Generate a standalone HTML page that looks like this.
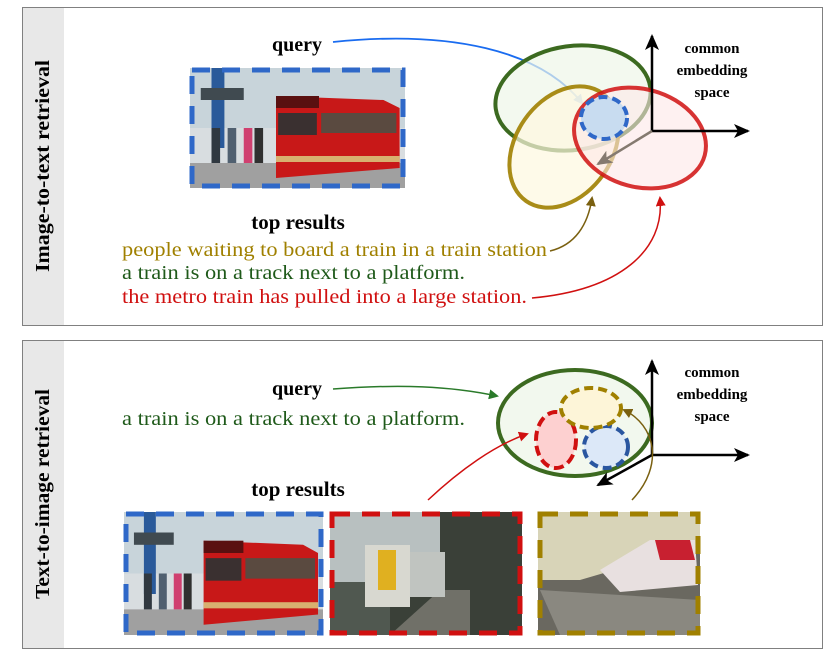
<!DOCTYPE html>
<html><head><meta charset="utf-8"><style>
html,body{margin:0;padding:0;background:#fff;width:834px;height:656px;overflow:hidden}
svg text{font-family:"Liberation Serif",serif}
</style></head><body>
<svg width="834" height="656" viewBox="0 0 834 656" xmlns="http://www.w3.org/2000/svg">
<defs>
<marker id="ab" markerWidth="10" markerHeight="10" refX="8" refY="5" orient="auto" markerUnits="userSpaceOnUse"><path d="M0,0 L10,5 L0,10 z" fill="#1a6cf0"/></marker>
<marker id="ag" markerWidth="10" markerHeight="10" refX="8" refY="5" orient="auto" markerUnits="userSpaceOnUse"><path d="M0,0 L10,5 L0,10 z" fill="#2a7a2a"/></marker>
<marker id="ao" markerWidth="10" markerHeight="10" refX="8" refY="5" orient="auto" markerUnits="userSpaceOnUse"><path d="M0,0 L10,5 L0,10 z" fill="#7a6010"/></marker>
<marker id="ar" markerWidth="10" markerHeight="10" refX="8" refY="5" orient="auto" markerUnits="userSpaceOnUse"><path d="M0,0 L10,5 L0,10 z" fill="#d01010"/></marker>
<marker id="ak" markerWidth="16" markerHeight="14" refX="14" refY="7" orient="auto" markerUnits="userSpaceOnUse"><path d="M0,0 L16,7 L0,14 L4,7 z" fill="#000"/></marker>
<marker id="akg" markerWidth="16" markerHeight="14" refX="14" refY="7" orient="auto" markerUnits="userSpaceOnUse"><path d="M0,0 L16,7 L0,14 L4,7 z" fill="#857a70"/></marker>
<symbol id="tram" viewBox="0 0 200 120" preserveAspectRatio="none">
<rect width="200" height="120" fill="#d8dde0"/>
<rect x="0" y="0" width="200" height="60" fill="#c8d4da"/>
<rect x="20" y="0" width="12" height="80" fill="#2a5a9a"/>
<rect x="10" y="20" width="40" height="12" fill="#404a50"/>
<rect x="0" y="95" width="200" height="25" fill="#a0a0a0"/>
<path d="M80,28 L180,32 L195,40 L195,100 L80,110 z" fill="#c81818"/>
<rect x="80" y="28" width="40" height="12" fill="#5a1010"/>
<rect x="82" y="45" width="36" height="22" fill="#3a3030"/>
<rect x="122" y="45" width="70" height="20" fill="#5a4a40"/>
<rect x="80" y="88" width="115" height="6" fill="#d8b070"/>
<rect x="20" y="60" width="8" height="35" fill="#303840"/>
<rect x="35" y="60" width="8" height="35" fill="#506070"/>
<rect x="50" y="60" width="8" height="35" fill="#d04070"/>
<rect x="60" y="60" width="8" height="35" fill="#303030"/>
</symbol>
</defs>

<rect x="22.5" y="7.5" width="800" height="318" fill="#fff" stroke="#808080"/>
<rect x="23" y="8" width="41" height="317" fill="#e8e8e8"/>
<text transform="translate(49,166) rotate(-90)" font-size="20" font-weight="bold" text-anchor="middle" textLength="212" lengthAdjust="spacingAndGlyphs">Image-to-text retrieval</text>

<use href="#tram" x="190" y="68" width="215" height="120"/>
<rect x="192" y="70" width="211" height="116" fill="none" stroke="#2f68c8" stroke-width="5" stroke-dasharray="18,12"/>

<text x="297" y="51" font-size="20" font-weight="bold" text-anchor="middle">query</text>
<path d="M333,42 C450,30 540,50 582,103" fill="none" stroke="#1a6cf0" stroke-width="1.8" marker-end="url(#ab)"/>

<ellipse cx="573" cy="98" rx="78" ry="52" transform="rotate(-8 573 98)" fill="#eef6e8" fill-opacity="0.7" stroke="#3c6a20" stroke-width="4"/>
<ellipse cx="564" cy="147" rx="66" ry="48" transform="rotate(-55 564 147)" fill="#fdf8e0" fill-opacity="0.7" stroke="#a08000" stroke-width="4" stroke-opacity="0.9"/>
<ellipse cx="640" cy="138" rx="67" ry="49" transform="rotate(15 640 138)" fill="#fde8e8" fill-opacity="0.6" stroke="#d01010" stroke-width="4" stroke-opacity="0.85"/>
<ellipse cx="604" cy="118" rx="23" ry="21" fill="#c8dcf0" stroke="#2f68c8" stroke-width="4" stroke-dasharray="9,5"/>
<line x1="652" y1="131" x2="652" y2="36" stroke="#000" stroke-width="2.5" marker-end="url(#ak)"/>
<line x1="652" y1="131" x2="748" y2="131" stroke="#000" stroke-width="2.5" marker-end="url(#ak)"/>
<line x1="652" y1="131" x2="598" y2="164" stroke="#857a70" stroke-width="2.5" marker-end="url(#akg)"/>
<g font-size="15" font-weight="bold" text-anchor="middle">
<text x="712" y="53">common</text><text x="712" y="75">embedding</text><text x="712" y="97">space</text></g>

<text x="298" y="229" font-size="21" font-weight="bold" text-anchor="middle">top results</text>
<g font-size="20">
<text x="122" y="256" fill="#a08000" textLength="425" lengthAdjust="spacingAndGlyphs">people waiting to board a train in a train station</text>
<text x="122" y="279" fill="#1f5a1a" textLength="343" lengthAdjust="spacingAndGlyphs">a train is on a track next to a platform.</text>
<text x="122" y="303" fill="#d01010" textLength="405" lengthAdjust="spacingAndGlyphs">the metro train has pulled into a large station.</text></g>
<path d="M550,251 C575,245 588,225 592,198" fill="none" stroke="#7a6010" stroke-width="1.5" marker-end="url(#ao)"/>
<path d="M532,298 C620,290 665,250 660,198" fill="none" stroke="#d01010" stroke-width="1.5" marker-end="url(#ar)"/>

<rect x="22.5" y="340.5" width="800" height="308" fill="#fff" stroke="#808080"/>
<rect x="23" y="341" width="41" height="307" fill="#e8e8e8"/>
<text transform="translate(49,494) rotate(-90)" font-size="20" font-weight="bold" text-anchor="middle" textLength="210" lengthAdjust="spacingAndGlyphs">Text-to-image retrieval</text>

<text x="297" y="395" font-size="20" font-weight="bold" text-anchor="middle">query</text>
<path d="M333,389 C400,384 450,386 497,396" fill="none" stroke="#2a7a2a" stroke-width="1.5" marker-end="url(#ag)"/>
<text x="122" y="425" font-size="20" fill="#1f5a1a" textLength="343" lengthAdjust="spacingAndGlyphs">a train is on a track next to a platform.</text>

<ellipse cx="575" cy="423" rx="77" ry="53" fill="#f2f8ee" stroke="#3c6a20" stroke-width="4"/>
<ellipse cx="556" cy="440" rx="20" ry="28" fill="#fdd0d0" stroke="#d01010" stroke-width="4" stroke-dasharray="10,5"/>
<ellipse cx="606" cy="447" rx="22" ry="21" fill="#dce8f8" stroke="#2a56a0" stroke-width="4" stroke-dasharray="9,5"/>
<ellipse cx="591" cy="408" rx="30" ry="20" fill="#fdf5d8" stroke="#a08000" stroke-width="4" stroke-dasharray="9,5"/>
<line x1="652" y1="455" x2="652" y2="361" stroke="#000" stroke-width="2.5" marker-end="url(#ak)"/>
<line x1="652" y1="455" x2="748" y2="455" stroke="#000" stroke-width="2.5" marker-end="url(#ak)"/>
<line x1="652" y1="455" x2="598" y2="485" stroke="#000" stroke-width="2.5" marker-end="url(#ak)"/>
<g font-size="15" font-weight="bold" text-anchor="middle">
<text x="712" y="377">common</text><text x="712" y="399">embedding</text><text x="712" y="421">space</text></g>
<path d="M428,500 C460,470 495,445 527,434" fill="none" stroke="#d01010" stroke-width="1.5" marker-end="url(#ar)"/>
<path d="M632,500 C665,465 655,425 624,410" fill="none" stroke="#7a6010" stroke-width="1.5" marker-end="url(#ao)"/>

<text x="298" y="496" font-size="21" font-weight="bold" text-anchor="middle">top results</text>

<use href="#tram" x="124" y="512" width="199" height="123"/>
<rect x="126" y="514" width="195" height="119" fill="none" stroke="#2f68c8" stroke-width="5" stroke-dasharray="18,12"/>

<g>
<rect x="330" y="512" width="192" height="123" fill="#3a4038"/>
<rect x="330" y="512" width="110" height="70" fill="#b8c0c0"/>
<rect x="330" y="582" width="60" height="53" fill="#505850"/>
<path d="M390,635 L440,590 L470,590 L470,635 z" fill="#707068"/>
<rect x="365" y="545" width="45" height="62" fill="#d8d8d0"/>
<rect x="378" y="550" width="18" height="40" fill="#e0b020"/>
<rect x="410" y="552" width="35" height="45" fill="#c0c4c0"/>
<rect x="332" y="514" width="188" height="119" fill="none" stroke="#d01010" stroke-width="5" stroke-dasharray="18,12"/>
</g>

<g>
<rect x="538" y="512" width="162" height="123" fill="#6a6860"/>
<path d="M538,512 L700,512 L700,545 L580,580 L538,580 z" fill="#d8d4b8"/>
<path d="M600,570 L650,540 L695,540 L698,585 L620,592 z" fill="#e8e0e0"/>
<path d="M655,540 L690,540 L695,560 L660,560 z" fill="#c82030"/>
<path d="M540,590 L700,600 L700,635 L560,635 z" fill="#8a8880"/>
<rect x="540" y="514" width="158" height="119" fill="none" stroke="#a08000" stroke-width="5" stroke-dasharray="18,12"/>
</g>
</svg>
</body></html>
